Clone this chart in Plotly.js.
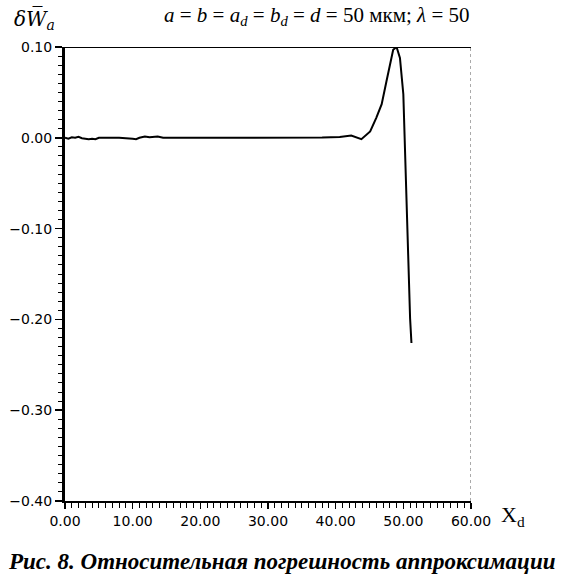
<!DOCTYPE html>
<html>
<head>
<meta charset="utf-8">
<script src="https://cdn.plot.ly/plotly-3.0.1.min.js"></script>
<style>html,body{margin:0;padding:0;background:#fff;}#chart{width:564px;height:581px;}</style>
</head>
<body>
<div id="chart"></div>
<script>
// Data
const xd = [0, 0.5, 1, 1.5, 2, 2.5, 3, 3.5, 4, 4.5, 5, 6, 8, 10, 10.5, 11, 11.8, 12.5, 13.7, 14.5, 16, 18.8, 20, 25, 30, 35, 38, 40.6, 42.3, 43.8, 45.1, 46.0, 46.8, 47.5, 48.0, 48.5, 49.0, 49.5, 50.0, 50.2, 50.5, 50.7, 51.0, 51.2];
const dW = [0, -0.001, 0.0005, 0.000, 0.001, -0.0005, -0.001, -0.0015, -0.001, -0.0015, 0.000, 0.000, 0.000, -0.001, -0.0015, 0.000, 0.0015, 0.0005, 0.0015, 0.000, 0.000, 0.0005, 0.000, 0.000, 0.000, 0.000, 0.0003, 0.001, 0.0025, -0.0015, 0.007, 0.022, 0.037, 0.062, 0.080, 0.097, 0.100, 0.088, 0.048, -0.003, -0.063, -0.133, -0.199, -0.226];
const xTickVals = [0, 10, 20, 30, 40, 50, 60];
const xTickText = ["0.00", "10.00", "20.00", "30.00", "40.00", "50.00", "60.00"];
const yTickVals = [0.1, 0, -0.1, -0.2, -0.3, -0.4];
const yTickText = ["0.10", "0.00", "\u22120.10", "\u22120.20", "\u22120.30", "\u22120.40"];
const titleText = "<i>a</i> = <i>b</i> = <i>a<sub>d</sub></i> = <i>b<sub>d</sub></i> = <i>d</i> = 50 мкм; <i>λ</i> = 50";
const yLabel = "<i>δW\u0305<sub>a</sub></i>";
const xLabel = "X<sub>d</sub>";
const caption = "<b><i>Рис. 8. Относительная погрешность аппроксимации</i></b>";

const trace = {
  x: xd, y: dW, type: 'scatter', mode: 'lines',
  line: {color: '#000', width: 2},
  cliponaxis: false, hoverinfo: 'skip'
};

const layout = {
  width: 564, height: 581,
  margin: {l: 65, r: 93, t: 47, b: 80},
  paper_bgcolor: '#fff', plot_bgcolor: '#fff',
  showlegend: false,
  font: {family: 'DejaVu Sans', color: '#000', size: 14},
  xaxis: {
    range: [0, 60], showgrid: false, zeroline: false,
    showline: true, linecolor: '#000', linewidth: 2,
    ticks: 'outside', ticklen: 6, tickwidth: 1.5, tickcolor: '#000',
    tickvals: xTickVals, ticktext: xTickText,
    tickfont: {family: 'DejaVu Sans', size: 14},
    minor: {dtick: 1, ticks: 'outside', ticklen: 5, tickwidth: 1, tickcolor: '#000'}
  },
  yaxis: {
    range: [-0.4, 0.1], showgrid: false, zeroline: false,
    showline: true, linecolor: '#000', linewidth: 3,
    ticks: 'outside', ticklen: 7, tickwidth: 1.5, tickcolor: '#000',
    tickvals: yTickVals, ticktext: yTickText,
    tickfont: {family: 'DejaVu Sans', size: 14},
    minor: {dtick: 0.01, ticks: 'outside', ticklen: 4, tickwidth: 1, tickcolor: '#000'}
  },
  shapes: [
    {type: 'line', xref: 'x', yref: 'y', x0: 0, x1: 60, y0: 0.1, y1: 0.1, line: {color: '#000', width: 2}},
    {type: 'line', xref: 'x', yref: 'y', x0: 60, x1: 60, y0: -0.4, y1: 0.1, line: {color: '#555', width: 1, dash: 'dot'}}
  ],
  annotations: [
    {text: titleText, xref: 'paper', yref: 'paper', x: 0.62, y: 1, xanchor: 'center', yanchor: 'bottom', yshift: 16, showarrow: false,
     font: {family: 'Liberation Serif', size: 21, color: '#000'}},
    {text: yLabel, xref: 'paper', yref: 'paper', x: 0, y: 1, xanchor: 'right', yanchor: 'bottom', xshift: -8, yshift: 12, showarrow: false,
     font: {family: 'DejaVu Serif', size: 20, color: '#000'}},
    {text: xLabel, xref: 'paper', yref: 'paper', x: 1, y: 0, xanchor: 'left', yanchor: 'middle', xshift: 28, yshift: -15, showarrow: false,
     font: {family: 'Liberation Serif', size: 22, color: '#000'}},
    {text: caption, xref: 'paper', yref: 'paper', x: 0.5, y: 0, xanchor: 'center', yanchor: 'top', xshift: 14, yshift: -46, showarrow: false,
     font: {family: 'Liberation Serif', size: 23, color: '#000'}}
  ]
};

Plotly.newPlot('chart', [trace], layout, {displayModeBar: false, staticPlot: true});
</script>
</body>
</html>
